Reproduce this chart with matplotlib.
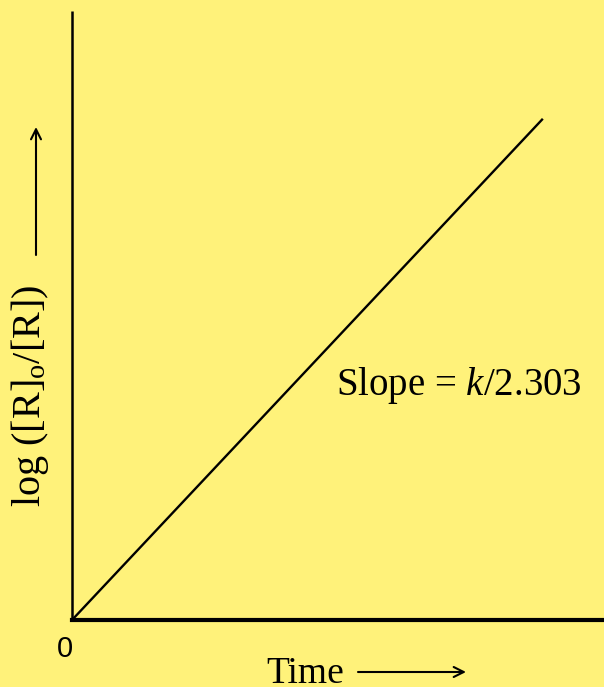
import matplotlib
matplotlib.use("Agg")
import matplotlib.pyplot as plt
from matplotlib.patches import FancyArrowPatch

# first-order reaction: log([R]o/[R]) grows linearly with time
time = [0.0, 0.885]
log_ratio = [0.0, 0.823]

bg = "#FFF27A"
W, H = 604, 687

plt.rcParams['mathtext.fontset'] = 'custom'
plt.rcParams['mathtext.rm'] = 'Liberation Serif'
plt.rcParams['mathtext.it'] = 'Liberation Serif:italic'

fig = plt.figure(figsize=(W / 100, H / 100), dpi=100, facecolor=bg)

x0, y0 = 72, 620   # origin in pixels
ax = fig.add_axes([x0 / W, (H - y0) / H, (W - x0) / W, (y0 - 11) / H])
ax.set_facecolor(bg)
ax.plot(time, log_ratio, color='black', lw=1.7, solid_capstyle='butt')
ax.set_xlim(0, 1)
ax.set_ylim(0, 1)
ax.set_xticks([])
ax.set_yticks([])
for s in ['top', 'right']:
    ax.spines[s].set_visible(False)
ax.spines['left'].set_linewidth(1.8)
ax.spines['bottom'].set_linewidth(3.0)
ax.spines['left'].set_capstyle('butt')

def px(x, y):
    return (x / W, 1 - y / H)

serif = 'Liberation Serif'

ax.text(0.497, 0.369, "Slope = $k$/2.303", transform=ax.transAxes,
        fontsize=28, family=serif, ha='left', va='baseline')

fig.text(*px(65, 649), "0", fontsize=21, family='Liberation Sans',
         ha='center', va='center')

fig.text(*px(305, 683), "Time", fontsize=27, family=serif,
         ha='center', va='baseline')

ar = dict(arrowstyle='->', color='black', lw=1.5, mutation_scale=18,
          shrinkA=0, shrinkB=0, transform=fig.transFigure)
fig.add_artist(FancyArrowPatch(px(358, 672), px(466, 672), **ar))

fig.text(*px(30, 396), "log ([R]$_\\mathrm{o}$/[R])", fontsize=29, family=serif,
         rotation=90, ha='center', va='center')
fig.add_artist(FancyArrowPatch(px(36, 255), px(36, 127), **ar))

fig.savefig("out.png", dpi=100, facecolor=bg)
